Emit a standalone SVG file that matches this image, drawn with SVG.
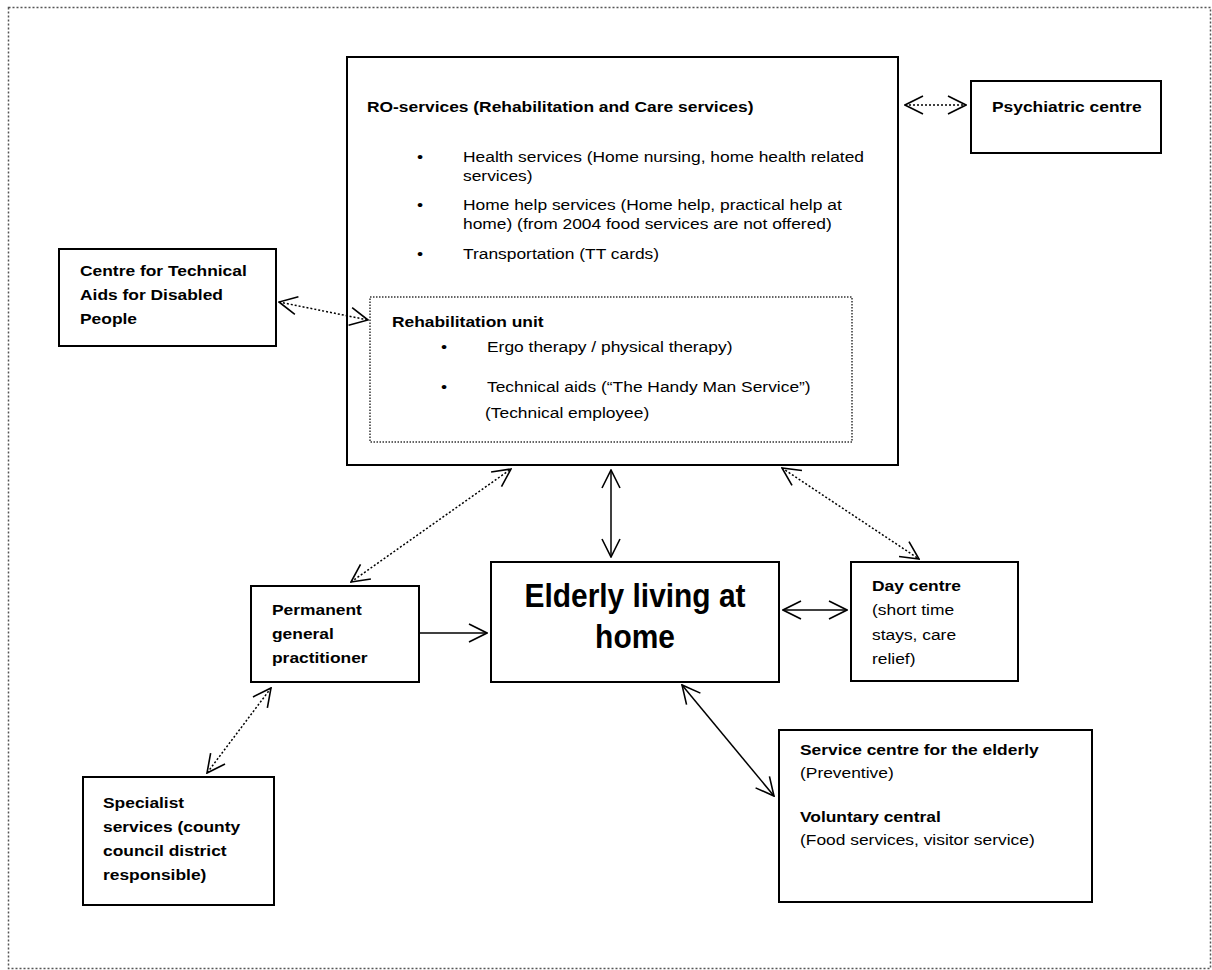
<svg xmlns="http://www.w3.org/2000/svg" width="1212" height="970" viewBox="0 0 1212 970">
<style>
.t{font-family:"Liberation Sans",Arial,sans-serif;font-size:14.5px;fill:#000}
.b{font-weight:bold}
.box{fill:#fff;stroke:#000;stroke-width:2}
.dbox{fill:none;stroke:#333;stroke-width:1.5;stroke-dasharray:1.5 1.5}
.c{fill:none;stroke:#000;stroke-width:1.5}
.d{stroke-dasharray:2 2}
</style>
<defs>
<marker id="ah" viewBox="0 0 20 20" refX="19" refY="10" markerWidth="20" markerHeight="20" markerUnits="userSpaceOnUse" orient="auto-start-reverse">
<path d="M1,1 L19,10 L1,19" fill="none" stroke="#000" stroke-width="1.6"/>
</marker>
</defs>
<rect x="8.5" y="7.5" width="1202" height="961" fill="#fff" stroke="#555" stroke-width="1.5" stroke-dasharray="2 2"/>

<g id="ro-services">
<rect class="box" x="347" y="57" width="551" height="408"/>
<text class="t b" transform="matrix(1.2 0 0 1 367 112)">RO-services (Rehabilitation and Care services)</text>
<text class="t" transform="matrix(1.2 0 0 1 417 162)">•</text>
<text class="t" transform="matrix(1.2 0 0 1 463 162)"><tspan x="0">Health services (Home nursing, home health related</tspan><tspan x="0" dy="19">services)</tspan></text>
<text class="t" transform="matrix(1.2 0 0 1 417 210)">•</text>
<text class="t" transform="matrix(1.2 0 0 1 463 210)"><tspan x="0">Home help services (Home help, practical help at</tspan><tspan x="0" dy="19">home) (from 2004 food services are not offered)</tspan></text>
<text class="t" transform="matrix(1.2 0 0 1 417 259)">•</text>
<text class="t" transform="matrix(1.2 0 0 1 463 259)">Transportation (TT cards)</text>
</g>

<g id="rehabilitation-unit">
<rect class="dbox" x="370" y="297" width="482" height="145"/>
<text class="t b" transform="matrix(1.2 0 0 1 392 327)">Rehabilitation unit</text>
<text class="t" transform="matrix(1.2 0 0 1 441 352)">•</text>
<text class="t" transform="matrix(1.2 0 0 1 487 352)">Ergo therapy / physical therapy)</text>
<text class="t" transform="matrix(1.2 0 0 1 441 392)">•</text>
<text class="t" transform="matrix(1.2 0 0 1 487 392)">Technical aids (“The Handy Man Service”)</text>
<text class="t" transform="matrix(1.2 0 0 1 485 418)">(Technical employee)</text>
</g>

<g id="psychiatric-centre">
<rect class="box" x="971" y="81" width="190" height="72"/>
<text class="t b" transform="matrix(1.2 0 0 1 992 112)">Psychiatric centre</text>
</g>

<g id="technical-aids-centre">
<rect class="box" x="59" y="249" width="217" height="97"/>
<text class="t b" transform="matrix(1.2 0 0 1 80 276)"><tspan x="0">Centre for Technical</tspan><tspan x="0" dy="24">Aids for Disabled</tspan><tspan x="0" dy="24">People</tspan></text>
</g>

<g id="general-practitioner">
<rect class="box" x="251" y="586" width="168" height="96"/>
<text class="t b" transform="matrix(1.2 0 0 1 272 615)"><tspan x="0">Permanent</tspan><tspan x="0" dy="24">general</tspan><tspan x="0" dy="24">practitioner</tspan></text>
</g>

<g id="elderly">
<rect class="box" x="491" y="562" width="288" height="120"/>
<text class="b" font-family="Liberation Sans,Arial,sans-serif" font-size="34" text-anchor="middle" transform="matrix(0.88 0 0 1 635 607)"><tspan x="0">Elderly living at</tspan><tspan x="0" dy="41">home</tspan></text>
</g>

<g id="day-centre">
<rect class="box" x="851" y="562" width="167" height="119"/>
<text class="t" transform="matrix(1.2 0 0 1 872 591)"><tspan x="0" class="b">Day centre</tspan><tspan x="0" dy="24">(short time</tspan><tspan x="0" dy="25">stays, care</tspan><tspan x="0" dy="24">relief)</tspan></text>
</g>

<g id="service-centre">
<rect class="box" x="779" y="730" width="313" height="172"/>
<text class="t" transform="matrix(1.2 0 0 1 800 755)"><tspan x="0" class="b">Service centre for the elderly</tspan><tspan x="0" dy="23">(Preventive)</tspan><tspan x="0" dy="44" class="b">Voluntary central</tspan><tspan x="0" dy="23">(Food services, visitor service)</tspan></text>
</g>

<g id="specialist-services">
<rect class="box" x="83" y="777" width="191" height="128"/>
<text class="t b" transform="matrix(1.2 0 0 1 103 808)"><tspan x="0">Specialist</tspan><tspan x="0" dy="24">services (county</tspan><tspan x="0" dy="24">council district</tspan><tspan x="0" dy="24">responsible)</tspan></text>
</g>

<g id="connectors">
<line class="c d" x1="905" y1="105" x2="966" y2="105" marker-start="url(#ah)" marker-end="url(#ah)"/>
<line class="c d" x1="279" y1="302" x2="368" y2="320" marker-start="url(#ah)" marker-end="url(#ah)"/>
<line class="c d" x1="351" y1="582" x2="511" y2="469" marker-start="url(#ah)" marker-end="url(#ah)"/>
<line class="c" x1="611" y1="470" x2="611" y2="557" marker-start="url(#ah)" marker-end="url(#ah)"/>
<line class="c d" x1="782" y1="468" x2="919" y2="559" marker-start="url(#ah)" marker-end="url(#ah)"/>
<line class="c" x1="419" y1="633" x2="487" y2="633" marker-end="url(#ah)"/>
<line class="c" x1="783" y1="610" x2="847" y2="610" marker-start="url(#ah)" marker-end="url(#ah)"/>
<line class="c" x1="682" y1="685" x2="774" y2="796" marker-start="url(#ah)" marker-end="url(#ah)"/>
<line class="c d" x1="271" y1="688" x2="207" y2="773" marker-start="url(#ah)" marker-end="url(#ah)"/>
</g>
</svg>
